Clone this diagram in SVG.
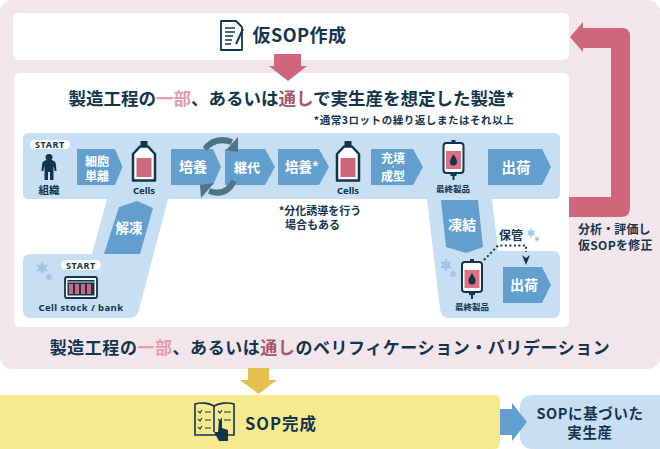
<svg xmlns="http://www.w3.org/2000/svg" width="660" height="449" viewBox="0 0 660 449">
<style>
text{font-family:"Noto Sans CJK JP","Noto Sans",sans-serif;font-weight:700;fill:#12344d;text-anchor:middle}
.w{fill:#fff}
.lat{font-family:"Noto Sans","Noto Sans CJK JP",sans-serif}
.chev{fill:#629fcf}
.bg{fill:#c8def3}
.a{fill:#e39bad}
.b{fill:#a85570}
.s{text-anchor:start}
</style>
<defs>
<g id="flask">
<rect x="-3.500" y="-12" width="7" height="6" fill="#12344d"/>
<path d="M-4-6.500H4L11 1V27.500H-11V1Z" fill="#fff" stroke="#12344d" stroke-width="2.500" stroke-linejoin="round"/>
<rect x="-7.500" y="5" width="15" height="19" fill="#cf667b"/>
</g>
<g id="bag">
<rect x="-2" y="-2" width="4" height="3" fill="#12344d"/>
<rect x="-10" y="1" width="20" height="30" rx="3" fill="#fff" stroke="#12344d" stroke-width="2"/>
<rect x="-7.500" y="9" width="15" height="18" fill="#de7084"/>
<path d="M0 12C1.500 15 3.500 17 3.500 20A3.500 3.500 0 0 1-3.500 20C-3.500 17-1.500 15 0 12Z" fill="#12344d"/>
<path d="M0 31V38M-3 33H3" stroke="#12344d" stroke-width="2"/>
</g>
<g id="flake" fill="none" stroke="#9cc3e3" stroke-width="1.500">
<path d="M0-6V6M-5.200-3L5.200 3M-5.200 3L5.200-3"/>
<circle r="3"/>
</g>
<g id="flakes" fill="none" stroke="#9cc3e3" stroke-width="1.500">
<path d="M0-3.500V3.500M-3-1.800L3 1.800M-3 1.800L3-1.800"/>
</g>
</defs>

<g id="panel-pink"><rect x="0" y="0" width="660" height="369" rx="12" fill="#f2e6ea"/></g>

<g id="node-draft">
<rect x="13" y="13" width="556" height="47" rx="5" fill="#fff"/>
<path d="M221 21H236L242 27V50H221Z" fill="#fff" stroke="#12344d" stroke-width="1.800" stroke-linejoin="round"/>
<path d="M225 28H235M225 32H235M225 36H233M225 40H232M225 44H231" stroke="#12344d" stroke-width="1.300"/>
<path d="M236 44L243 29" stroke="#12344d" stroke-width="2"/>
<text x="299.500" y="42" font-size="18" letter-spacing=".5">仮SOP作成</text>
</g>

<g id="node-main">
<rect x="14" y="73" width="555" height="254" rx="6" fill="#fff"/>
<text x="291.500" y="105" font-size="17.500">製造工程の<tspan class="a">一部</tspan>、あるいは<tspan class="b">通し</tspan>で実生産を想定した製造*</text>
<text x="414" y="124" font-size="10.500" letter-spacing=".55">*通常3ロットの繰り返しまたはそれ以上</text>
<path class="bg" d="M29 133H554Q560 133 560 139V193Q560 199 554 199H492L498 251H552Q560 251 560 259V310Q560 318 552 318H449Q441 318 440 309L427 199H168L139 310Q137 318 129 318H31Q23 318 23 310V262Q23 254 31 254H92L107 199H29Q23 199 23 193V139Q23 133 29 133Z"/>
</g>

<g id="node-tissue">
<rect x="30" y="140" width="40" height="9" rx="4.500" fill="#fff"/>
<text class="lat" x="50" y="148" font-size="9" letter-spacing=".6">START</text>
<path d="M49 154c2.500 0 3.500 1.500 3.500 3.500 0 1-.5 1.800-1 2.500 2 .5 4 1.500 4.300 3.500L56.500 171H54.700L53.500 165.500V180H50V172H48V180H44.500V165.500L43.300 171H41.500L42.200 163.500C42.500 161.500 44.500 160.500 46.500 160 46 159.300 45.500 158.500 45.500 157.500 45.500 155.500 46.500 154 49 154Z" fill="#12344d"/>
<text x="49" y="194" font-size="10.500">組織</text>
</g>

<g id="node-dissociate">
<path class="chev" d="M77 149H115L122.500 167L115 185H77Z"/>
<text class="w" font-size="12"><tspan x="97" y="166">細胞</tspan><tspan x="97" y="181">単離</tspan></text>
</g>

<g id="node-cells1"><use href="#flask" x="144" y="153"/><text class="lat" x="144" y="194" font-size="9.500">Cells</text></g>

<g id="node-culture1">
<path class="chev" d="M171 149H213L221 167L213 185H171Z"/>
<text class="w" x="193" y="172" font-size="14">培養</text>
</g>
<g id="node-passage">
<path class="chev" d="M225 149H265L275 167L265 185H225Z"/>
<text class="w" x="247" y="171.500" font-size="13">継代</text>
</g>
<g id="node-culture2">
<path class="chev" d="M278 149H319L329 167L319 185H278Z"/>
<text class="w" x="302" y="172" font-size="13.500">培養*</text>
</g>
<g id="node-cells2"><use href="#flask" x="348" y="153"/><text class="lat" x="348" y="194" font-size="9.500">Cells</text></g>
<g id="node-fill">
<path class="chev" d="M371 149H413L423 167L413 185H371Z"/>
<text class="w" font-size="12"><tspan x="393" y="163">充填</tspan><tspan x="393" y="169" font-size="5.500">・</tspan><tspan x="393" y="181">成型</tspan></text>
</g>
<g id="node-product1"><use href="#bag" x="453.500" y="142"/><text x="453" y="192" font-size="8.500">最終製品</text></g>
<g id="node-ship1">
<path class="chev" d="M488 149H542L551 167L542 185H488Z"/>
<text class="w" x="516" y="173" font-size="14.500">出荷</text>
</g>

<g id="note"><text font-size="11"><tspan x="320" y="215">*分化誘導を行う</tspan><tspan x="312.500" y="229">場合もある</tspan></text></g>

<g id="node-thaw">
<path class="chev" d="M104 254H140L153 208L137 201L119 207Z"/>
<text class="w" x="129" y="233" font-size="13.500">解凍</text>
</g>
<g id="node-stock">
<use href="#flake" x="42" y="268"/><use href="#flakes" x="49" y="277"/>
<rect x="61" y="260" width="40" height="10" rx="5" fill="#fff"/>
<text class="lat" x="81" y="268.500" font-size="9" letter-spacing=".6">START</text>
<rect x="65" y="277" width="32" height="21" rx="2" fill="#fff" stroke="#12344d" stroke-width="1.800"/>
<rect x="67.500" y="280" width="27" height="15.500" fill="#12344d"/>
<g fill="#cf667b"><rect x="69" y="284" width="4" height="10"/><rect x="75" y="284" width="4" height="10"/><rect x="81" y="284" width="4" height="10"/><rect x="87" y="284" width="4" height="10"/></g>
<path d="M67.500 282H94.500" stroke="#fff" stroke-width=".8"/>
<text class="lat" x="81" y="311" font-size="9.500" letter-spacing=".4">Cell stock / bank</text>
</g>

<g id="node-freeze">
<path class="chev" d="M441 200H478L483 247L466 253L446 247Z"/>
<text class="w" x="462" y="230" font-size="14">凍結</text>
</g>
<g id="node-product2">
<use href="#flake" x="446" y="265"/><use href="#flakes" x="453" y="274"/>
<use href="#bag" x="472" y="261"/>
<text x="472" y="310" font-size="8.500">最終製品</text>
</g>
<g id="storage">
<text x="511" y="240" font-size="12">保管</text>
<use href="#flake" transform="translate(531 233) scale(.75)"/><use href="#flakes" transform="translate(537 239) scale(.7)"/>
</g>
<g id="node-ship2">
<path class="chev" d="M503 267H542L551 285L542 303H503Z"/>
<text class="w" x="524" y="290" font-size="14">出荷</text>
</g>

<g id="label-revise"><text class="s" font-size="12"><tspan x="578" y="234" letter-spacing=".1">分析・評価し</tspan><tspan x="578" y="250" letter-spacing=".3">仮SOPを修正</tspan></text></g>

<g id="caption"><text x="330" y="354" font-size="17" letter-spacing=".55">製造工程の<tspan class="a">一部</tspan>、あるいは<tspan class="b">通し</tspan>のベリフィケーション・バリデーション</text></g>

<g id="node-complete">
<path d="M0 395H494Q500 395 500 401V443Q500 449 494 449H0Z" fill="#f7e98e"/>
<g fill="none" stroke="#12344d" stroke-width="1.600">
<path d="M195 404C201 402 209 403 214 406C219 403 228 402 234 404V435H195Z"/>
<path d="M214 406V432"/>
<path d="M198 411L200 413L202 410M205 412H211M198 419L200 421L202 418M205 420H211M198 427L200 429L202 426M205 428H211M218 411L220 413L222 410M224 412H231M218 419L220 421L222 418M224 420H231" stroke-width="1.100"/>
</g>
<path d="M219 420H222V428L228 430V441H219L214 432L218 432Z" fill="#12344d"/>
<text x="281" y="429.500" font-size="16.500" letter-spacing="1">SOP完成</text>
</g>
<g id="node-production">
<rect x="520" y="395" width="152" height="54" rx="12" class="bg"/>
<text font-size="14.500" letter-spacing=".6"><tspan x="590" y="418.500">SOPに基づいた</tspan><tspan x="590" y="438">実生産</tspan></text>
</g>

<g id="connectors">
<path d="M274 54H301V66H307L288 81L269 66H274Z" fill="#cf667b"/>
<path d="M569 197H611V48H583V52L570 37L583 22V28H622Q630 28 630 36V208Q630 217 621 217H569Z" fill="#cf667b"/>
<path d="M248 368H269V380H277L258.500 394L240 380H248Z" fill="#e5c04f"/>
<path d="M500 409H512V403L527 422L512 441V435H500Z" fill="#629fcf"/>
<g id="cycle-arrows" fill="#4f7388">
<path d="M205 149Q215 136 232 142" fill="none" stroke="#4f7388" stroke-width="6"/>
<path d="M238 137V152L226 150Z"/>
<path d="M234 181Q226 197 209 191" fill="none" stroke="#4f7388" stroke-width="6"/>
<path d="M200 185L214 183L201 198Z"/>
</g>
<path d="M484 260L498 245.500H526V252" fill="none" stroke="#12344d" stroke-width="2" stroke-dasharray="2 2.500"/>
<path d="M522 255L526 258L530 255L526 265Z" fill="#12344d"/>
</g>
</svg>
